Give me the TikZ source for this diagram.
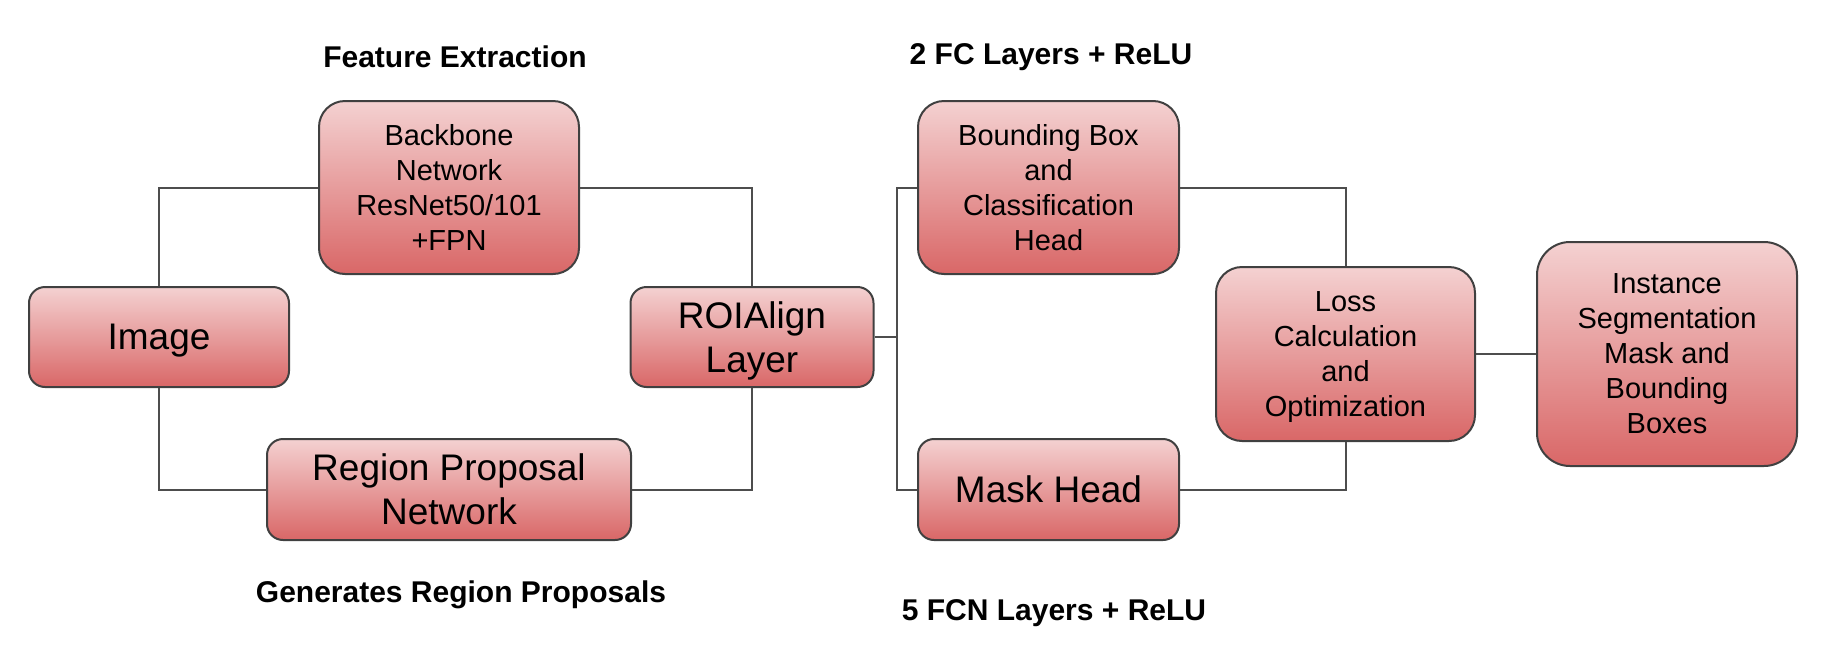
\documentclass[tikz,border=0pt]{standalone}
\usepackage{fontspec}
\setmainfont{Liberation Sans}
\definecolor{boxtop}{HTML}{F4D1D1}
\definecolor{boxmid}{HTML}{EAB0B0}
\definecolor{boxbot}{HTML}{D96767}
\definecolor{edge}{HTML}{404040}
\definecolor{wire}{HTML}{4D4D4D}
\tikzset{
  box/.style={rectangle, draw=edge, line width=2pt, top color=boxtop, middle color=boxmid, bottom color=boxbot,
    align=center, inner sep=0pt, text=black, text depth=0pt},
  smallbox/.style={box, rounded corners=16pt, minimum height=100pt, font=\fontsize{37}{44}\selectfont},
  tallbox/.style={box, rounded corners=26pt, minimum width=260pt, minimum height=173pt, font=\fontsize{29}{35}\selectfont},
  wirestyle/.style={draw=wire, line width=2pt},
  titlestyle/.style={font=\fontsize{30}{36}\selectfont\bfseries, inner sep=0pt}
}
\begin{document}
\begin{tikzpicture}[x=1pt,y=-1pt]
\useasboundingbox (0,0) rectangle (1840,670);
% nodes
\node[smallbox, minimum width=260pt] (img) at (159,337) {Image};
\node[tallbox] (bb) at (449,187.5) {Backbone\\Network\\ResNet50/101\\+FPN};
\node[smallbox, minimum width=243pt] (roi) at (752,337) {ROIAlign\\Layer};
\node[smallbox, minimum width=364pt, minimum height=101pt] (rpn) at (449,489.5) {Region Proposal\\Network};
\node[tallbox, minimum width=261pt] (bbh) at (1048.5,187.5) {Bounding Box\\and\\Classification\\Head};
\node[smallbox, minimum width=261pt, minimum height=101pt] (mask) at (1048.5,489.5) {Mask Head};
\node[tallbox, minimum width=259pt, minimum height=174pt] (loss) at (1345.5,354) {Loss\\Calculation\\and\\Optimization};
\node[tallbox, rounded corners=33pt, minimum width=260pt, minimum height=224pt] (inst) at (1667,354) {Instance\\Segmentation\\Mask and\\Bounding\\Boxes};
% titles
\node[titlestyle] (t1) at (455,57) {Feature Extraction};
\node[titlestyle] (t2) at (461,595) {Generates Region Proposals};
\node[titlestyle] (t3) at (1051,57) {2 FC Layers + ReLU};
\node[titlestyle] (t4) at (1054,613) {5 FCN Layers + ReLU};
% connectors
\coordinate (j) at (897,337);
\draw[wirestyle] (img.north) |- (bb.west);
\draw[wirestyle] (bb.east) -| (roi.north);
\draw[wirestyle] (img.south) |- (rpn.west);
\draw[wirestyle] (rpn.east) -| (roi.south);
\draw[wirestyle] (roi.east) -- (j);
\draw[wirestyle] (bbh.west) -| (j) |- (mask.west);
\draw[wirestyle] (bbh.east) -| (loss.north);
\draw[wirestyle] (mask.east) -| (loss.south);
\draw[wirestyle] (loss.east) -- (inst.west);
\end{tikzpicture}
\end{document}
